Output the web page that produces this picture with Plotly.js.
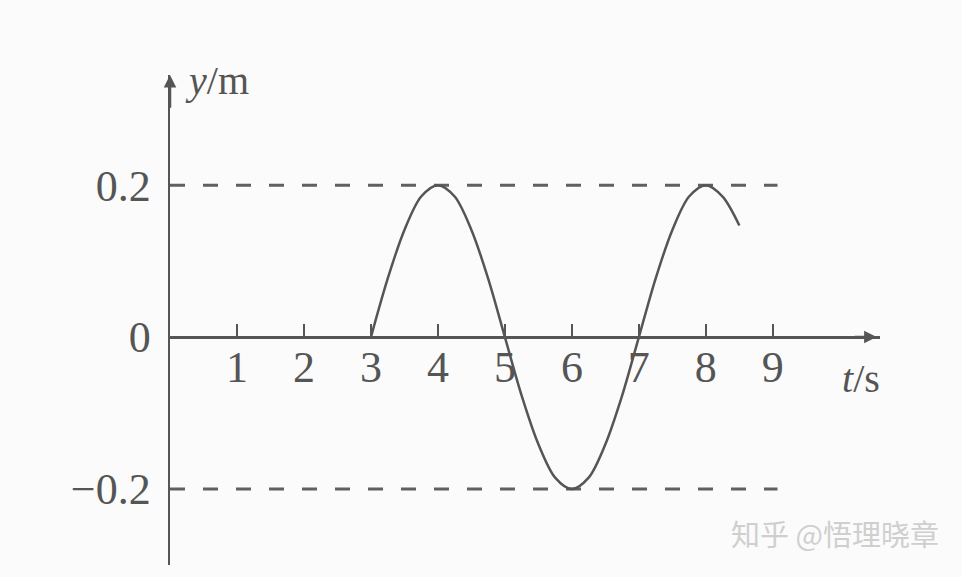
<!DOCTYPE html>
<html><head><meta charset="utf-8">
<script src="https://cdn.plot.ly/plotly-3.0.1.min.js"></script>
<style>html,body{margin:0;padding:0;background:#fbfbfb;}#c{width:962px;height:577px;}</style>
</head><body><div id="c"></div>
<script>
// values
const tValues = [3, 3.25, 3.5, 3.75, 4, 4.25, 4.5, 4.75, 5, 5.25, 5.5, 5.75, 6, 6.25, 6.5, 6.75, 7, 7.25, 7.5, 7.75, 8, 8.25, 8.5];
const yValues = [0, 0.077, 0.141, 0.185, 0.2, 0.185, 0.141, 0.077, 0, -0.077, -0.141, -0.185, -0.2, -0.185, -0.141, -0.077, 0, 0.077, 0.141, 0.185, 0.2, 0.185, 0.147];
const xTicks = [1, 2, 3, 4, 5, 6, 7, 8, 9];
const xTickLabels = ['1', '2', '3', '4', '5', '6', '7', '8', '9'];
const yTicks = [-0.2, 0, 0.2];
const yTickLabels = ['\u22120.2', '0', '0.2'];
const amplitudeLevels = [0.2, -0.2];
const dashEnd = 9.07;

const ink = '#555555';
const serif = 'Liberation Serif, Times New Roman, serif';

const traces = [];
amplitudeLevels.forEach(v => {
  traces.push({x: [0, dashEnd], y: [v, v], mode: 'lines', line: {color: '#606060', width: 3, dash: '15px,18px'}, hoverinfo: 'skip', showlegend: false});
});
traces.push({x: tValues, y: yValues, mode: 'lines', line: {color: ink, width: 2.5, shape: 'spline', smoothing: 0.9}, showlegend: false});

const yr = [-0.30, 0.345];
const layout = {
  width: 962, height: 577,
  paper_bgcolor: '#fbfbfb', plot_bgcolor: 'rgba(0,0,0,0)',
  margin: {l: 170, r: 82, t: 75, b: 12},
  showlegend: false,
  xaxis: {
    range: [0, 10.6], showgrid: false, zeroline: false,
    anchor: 'free', position: (0 - yr[0]) / (yr[1] - yr[0]),
    showline: true, linecolor: ink, linewidth: 3,
    tickmode: 'array', tickvals: xTicks, ticktext: xTickLabels,
    ticks: 'inside', ticklen: 12, tickwidth: 2, tickcolor: ink,
    tickfont: {family: serif, size: 44, color: ink}, ticklabelstandoff: -10
  },
  yaxis: {
    range: yr, showgrid: false, zeroline: false,
    showline: true, linecolor: ink, linewidth: 2.5,
    tickmode: 'array', tickvals: yTicks, ticktext: yTickLabels,
    ticks: '', tickfont: {family: serif, size: 44, color: ink}, ticklabelstandoff: 8
  },
  annotations: [
    {x: 10.55, y: 0, ax: 10.2, ay: 0, xref: 'x', yref: 'y', axref: 'x', ayref: 'y', text: '', showarrow: true, arrowhead: 2, arrowsize: 1, arrowwidth: 2.5, arrowcolor: ink},
    {x: 0, y: 0.345, ax: 0, ay: 0.3, xref: 'x', yref: 'y', axref: 'x', ayref: 'y', text: '', showarrow: true, arrowhead: 2, arrowsize: 1, arrowwidth: 2.5, arrowcolor: ink},
    {x: 0.2, y: 0.338, xref: 'x', yref: 'y', xanchor: 'left', yanchor: 'middle', showarrow: false, text: '<i>y</i>/m', font: {family: serif, size: 40, color: ink}},
    {x: 10.0, y: -0.055, xref: 'x', yref: 'y', xanchor: 'left', yanchor: 'middle', showarrow: false, text: '<i>t</i>/s', font: {family: serif, size: 40, color: ink}},
    {x: 0.985, y: 0.065, xref: 'paper', yref: 'paper', xanchor: 'right', yanchor: 'middle', showarrow: false, text: '知乎 @悟理晓章', font: {family: 'Noto Sans CJK SC', size: 29, color: '#cfcfcf'}, xshift: 72}
  ]
};
Plotly.newPlot('c', traces, layout, {staticPlot: true, displayModeBar: false});
</script></body></html>
